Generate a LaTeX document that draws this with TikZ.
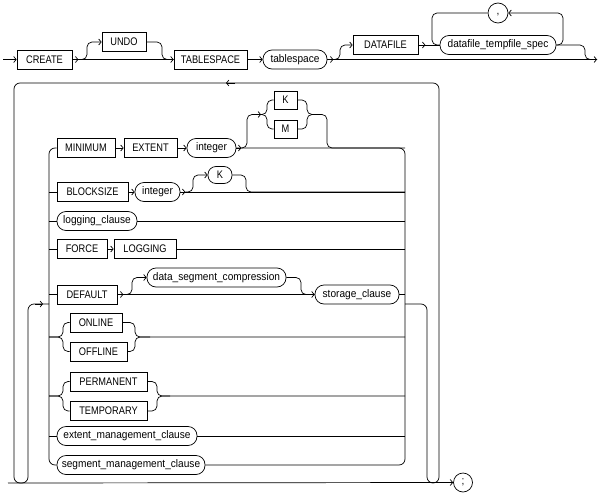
\documentclass[tikz,border=0pt]{standalone}
\usepackage{fontspec}
\usetikzlibrary{arrows.meta,calc}
\newfontfamily\lsanskw{Liberation Sans}[FakeStretch=0.84]
\newfontfamily\lsansnt{Liberation Sans}[FakeStretch=0.92]
\newcommand\kwfont{\lsanskw\fontsize{11}{12}\selectfont}
\newcommand\ntfont{\lsansnt\fontsize{11}{12}\selectfont}
\begin{document}
\begin{tikzpicture}[x=1pt,y=-1pt,
  line width=0.7pt,
  rr/.style={rounded corners=5pt},
  arr/.style={-{Straight Barb[length=2.5pt,width=6pt]}},
  kw/.style={draw, rectangle, minimum height=19pt, inner sep=0pt, font=\kwfont, text height=7.8pt, text depth=0pt},
  nt/.style={draw, rectangle, rounded corners=9pt, minimum height=19pt, inner sep=0pt, font=\ntfont, text height=7.8pt, text depth=2pt},
  rd/.style={draw, circle, minimum size=19pt, inner sep=0pt, font=\ntfont},
]
\useasboundingbox (0,0) rectangle (599,495);
% rails
\coordinate (LR) at (49,0);
\coordinate (RR) at (405,0);
\coordinate (s0) at (3,59.5);
\coordinate (e0) at (597,59.5);
\coordinate (m0) at (8,483);
\coordinate (kmin) at (261,114.5);
\coordinate (kmout) at (315,114.5);
% ---------- row 0 ----------
\node[kw, minimum width=55pt] (create) at (44.5,59.5) {CREATE};
\node[kw, minimum width=44pt] (undo) at (124,42) {UNDO};
\node[kw, minimum width=73pt] (tbs) at (210.5,59.5) {TABLESPACE};
\node[nt, minimum width=64pt] (tsp) at (295,59.5) {tablespace};
\node[kw, minimum width=65pt] (datafile) at (385.5,45) {DATAFILE};
\node[nt, minimum width=116pt] (dts) at (498,45) {datafile\_tempfile\_spec};
\node[rd, minimum size=20pt, text height=4pt, text depth=0pt] (comma) at (498,13) {,};
\draw[arr] (s0) -- (create.west);
\draw[arr] (create.east) -- (tbs.west);
\draw[arr] (create.east) -- ++(6,0);
\draw[rr,arr] ($(create.east)+(6,0)$) -- (87,59.5) -- (87,42) -- (undo.west);
\draw[rr] (undo.east) -- (162,42) -- (162,59.5) -- (tbs.west);
\draw[arr] (tbs.east) -- (tsp.west);
\draw[arr] (tsp.east) -- (e0);
\draw[arr] (tsp.east) -- ++(6,0);
\draw[rr,arr] ($(tsp.east)+(6,0)$) -- (340,59.5) -- (340,45) -- (datafile.west);
\draw (datafile.east) -- (dts.west);
\draw[arr] (datafile.east) -- ++(7,0);
\draw[rr,arr] (dts.east) -- (563,45) -- (563,13) -- (comma.east);
\draw[rr] (comma.west) -- (432,13) -- (432,45) -- (dts.west);
\draw[rr] (dts.east) -- (585,45) -- (585,59.5) -- (e0);
% ---------- group ----------
\node[kw, minimum width=58pt] (minimum) at (86,148) {MINIMUM};
\node[kw, minimum width=53pt] (extent) at (150.5,148) {EXTENT};
\node[nt, minimum width=49pt] (int1) at (211.5,148) {integer};
\node[kw, minimum width=23pt, minimum height=18pt] (k1) at (285.5,100) {K};
\node[kw, minimum width=23pt, minimum height=18pt] (m1) at (285.5,129) {M};
\node[kw, minimum width=71pt] (blocksize) at (92.5,192) {BLOCKSIZE};
\node[nt, minimum width=45pt] (int2) at (157.5,192) {integer};
\node[nt, font=\kwfont, text depth=0pt, minimum width=24pt, minimum height=17pt, rounded corners=8pt] (k2) at (220,175) {K};
\node[nt, minimum width=80pt] (logging) at (97,221) {logging\_clause};
\node[kw, minimum width=50pt] (force) at (82,249) {FORCE};
\node[kw, minimum width=62pt] (loggingkw) at (145,249) {LOGGING};
\node[kw, minimum width=60pt] (default) at (87,294.5) {DEFAULT};
\node[nt, minimum width=139pt] (dsc) at (216.5,277.5) {data\_segment\_compression};
\node[nt, minimum width=84pt] (storage) at (357,294.5) {storage\_clause};
\node[kw, minimum width=52pt] (online) at (96,322.5) {ONLINE};
\node[kw, minimum width=57pt] (offline) at (98.5,351.5) {OFFLINE};
\node[kw, minimum width=77pt] (permanent) at (108.5,381.5) {PERMANENT};
\node[kw, minimum width=77pt] (temporary) at (108.5,411) {TEMPORARY};
\node[nt, minimum width=140pt] (emc) at (127,436) {extent\_management\_clause};
\node[nt, minimum width=148pt] (smc) at (131,465) {segment\_management\_clause};
\node[rd] (semi) at (463,482.5) {;};
% rails
\draw[rounded corners=6pt] (minimum.west) -- (minimum.west -| LR) -- (smc.west -| LR) -- (smc.west);
\draw[rounded corners=6pt] (int1.east) -- (int1.east -| RR) -- (smc.east -| RR) -- (smc.east);
% row 1
\draw[arr] (minimum.east) -- (extent.west);
\draw[arr] (extent.east) -- (int1.west);
\draw[arr] (int1.east) -- ++(5,0);
\draw[rr,arr] ($(int1.east)+(5,0)$) -- (247,148) -- (247,114.5) -- (kmin);
\draw[rr] (kmin) -- (267,114.5) -- (267,100) -- (k1.west);
\draw[rr] (kmin) -- (267,114.5) -- (267,129) -- (m1.west);
\draw[rr] (k1.east) -- (307,100) -- (307,114.5) -- (327,114.5) -- (327,148) -- (int1.east -| RR);
\draw[rr] (m1.east) -- (307,129) -- (307,114.5) -- (kmout);
% row 2
\draw (blocksize.west -| LR) -- (blocksize.west);
\draw[arr] (blocksize.east) -- (int2.west);
\draw (int2.east) -- (int2.east -| RR);
\draw[arr] (int2.east) -- ++(5,0);
\draw[rr,arr] ($(int2.east)+(5,0)$) -- (193,192) -- (193,175) -- (k2.west);
\draw[rr] (k2.east) -- (246,175) -- (246,192) -- (int2.east -| RR);
% row 3
\draw (logging.west -| LR) -- (logging.west);
\draw (logging.east) -- (logging.east -| RR);
% row 4
\draw (force.west -| LR) -- (force.west);
\draw[arr] (force.east) -- (loggingkw.west);
\draw (loggingkw.east) -- (loggingkw.east -| RR);
% row 5
\draw (default.west -| LR) -- (default.west);
\draw[arr] (default.east) -- (storage.west);
\draw[arr] (default.east) -- ++(6,0);
\draw[rr,arr] ($(default.east)+(6,0)$) -- (132,294.5) -- (132,277.5) -- (dsc.west);
\draw[rr] (dsc.east) -- (301,277.5) -- (301,294.5) -- (storage.west);
\draw (storage.east) -- (storage.east -| RR);
% row 6
\draw[rr] (49,337) -- (63,337) -- (63,322.5) -- (online.west);
\draw[rr] (49,337) -- (63,337) -- (63,351.5) -- (offline.west);
\draw[rr] (online.east) -- (135,322.5) -- (135,337) -- (405,337);
\draw[rr] (offline.east) -- (135,351.5) -- (135,337) -- (150,337);
% row 7
\draw[rr] (49,396) -- (63,396) -- (63,381.5) -- (permanent.west);
\draw[rr] (49,396) -- (63,396) -- (63,411) -- (temporary.west);
\draw[rr] (permanent.east) -- (157,381.5) -- (157,396) -- (405,396);
\draw[rr] (temporary.east) -- (157,411) -- (157,396) -- (170,396);
% row 8
\draw (emc.west -| LR) -- (emc.west);
\draw (emc.east) -- (emc.east -| RR);
% repeat loop
\draw[rounded corners=6pt] (405,304) -- (427,304) -- (427,483) -- (439,483) -- (439,83) -- (14,83) -- (14,483) -- (28,483) -- (28,304) -- (49,304);
\draw[arr] (235,83) -- (226,83);
\draw[arr] (35,304) -- (43,304);
% main line
\draw[arr] (m0) -- (semi.west);
\end{tikzpicture}
\end{document}
